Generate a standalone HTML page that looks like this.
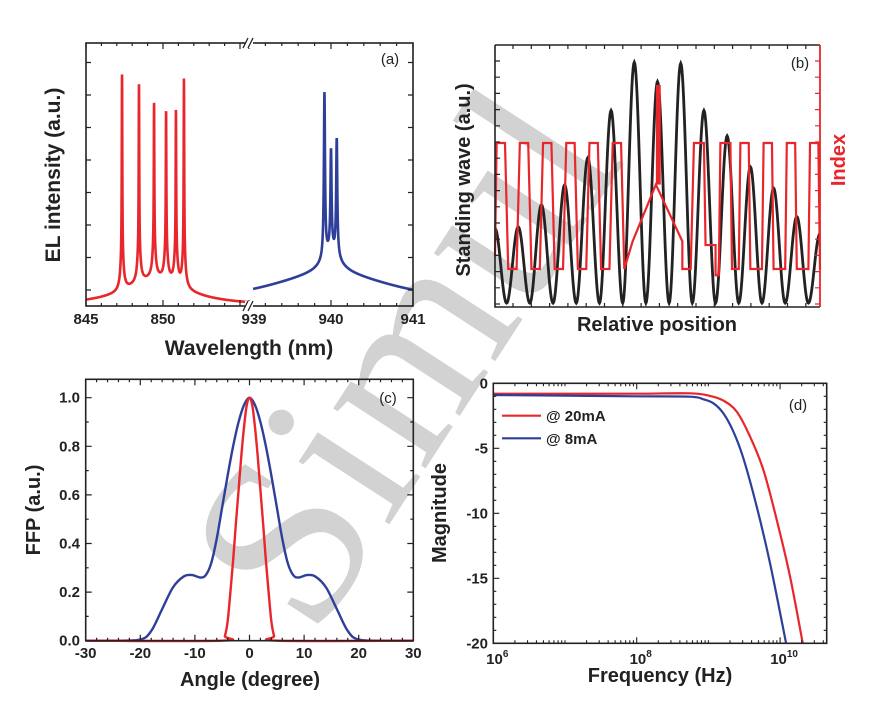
<!DOCTYPE html>
<html><head><meta charset="utf-8"><style>
html,body{margin:0;padding:0;background:#fff;}
svg{display:block;font-family:"Liberation Sans",sans-serif;}
.t{font-weight:bold;}
</style></head><body>
<svg id="fig" width="889" height="703" viewBox="0 0 889 703" xmlns="http://www.w3.org/2000/svg"></svg>
<script>
// ---- Panel (a) data ----
const redPeakWl = [847.34, 848.44, 849.42, 850.2, 850.84, 851.36];
const redPeakH = [0.905, 0.833, 0.749, 0.719, 0.734, 0.871];
const bluePeakWl = [939.92, 940.0, 940.07];
const bluePeakH = [0.60, 0.36, 0.42];
const aTicksLeft = [845, 850];
const aTicksRight = [939, 940, 941];
// ---- Panel (b) data ----
const swPeaks = [0.3, 0.306, 0.39, 0.466, 0.57, 0.75, 0.934, 0.86, 0.93, 0.75, 0.653, 0.535, 0.454, 0.345, 0.28];
const idxPos = [0,0.07,0.43,0.57,0.93,1.07,1.43,1.57,1.93,2.07,2.43,2.57,2.93,3.07,3.43,3.57,3.93,4.07,4.43,4.57,4.93,5.07,5.43,5.57,5.93,6.93,8.07,8.07,8.43,8.57,9.0,9.07,9.5,9.5,9.64,9.71,10.14,10.21,10.5,10.57,10.93,11.0,11.5,11.57,11.93,12.0,12.5,12.57,12.93,13.0,13.5,13.57,13.93,14.0];
const idxLevel = [0.1,1,1,0,0,1,1,0,0,1,1,0,0,1,1,0,0,1,1,0,0,1,1,0,0.22,0.67,0.22,0,0,1,1,0.19,0.19,-0.05,-0.05,1,1,0,0,1,1,0,0,1,1,0,0,1,1,0,0,1,1,0];
const defectPos = [6.93, 7.14];
const defectLevel = [0.67, 1.46];
// ---- Panel (c) data ----
const cAngles = [-30,-25,-20,-18,-16,-14,-12,-10.5,-9,-8,-7,-6,-5,-4,-3,-2,-1,0,1,2,3,4,5,6,7,8,9,10.5,12,14,16,18,20,25,30];
const cBlue = [0,0,0.005,0.04,0.13,0.22,0.265,0.27,0.26,0.27,0.32,0.42,0.55,0.68,0.8,0.9,0.97,1.0,0.97,0.9,0.8,0.68,0.55,0.42,0.32,0.27,0.26,0.27,0.265,0.22,0.13,0.04,0.005,0,0];
const cRedAngles = [-30,-5,-4.5,-4,-3.5,-3,-2.5,-2,-1.5,-1,-0.5,0,0.5,1,1.5,2,2.5,3,3.5,4,4.5,5,30];
const cRed = [0,0,0.02,0.08,0.2,0.33,0.48,0.62,0.76,0.88,0.97,1,0.97,0.88,0.76,0.62,0.48,0.33,0.2,0.08,0.02,0,0];
const cYTicks = ["0.0","0.2","0.4","0.6","0.8","1.0"];
const cXTicks = ["-30","-20","-10","0","10","20","30"];
// ---- Panel (d) data ----
const dRedLogF = [6, 7, 8, 8.744, 9.023, 9.209, 9.395, 9.581, 9.767, 9.953, 10.14, 10.316];
const dRedMag = [-0.8, -0.8, -0.8, -0.77, -0.97, -1.33, -2.18, -4.1, -6.67, -10.5, -14.9, -20];
const dBlueLogF = [6, 7, 8, 8.744, 8.93, 9.07, 9.209, 9.349, 9.488, 9.674, 9.86, 10.084];
const dBlueMag = [-0.9, -0.95, -1.0, -1.03, -1.23, -1.54, -2.31, -3.72, -5.77, -9.49, -13.85, -20];
const dYTicks = ["0","-5","-10","-15","-20"];
const dXTicks = [6, 8, 10];

const NS = "http://www.w3.org/2000/svg";
const svg = document.getElementById("fig");
function mk(tag, attrs, name, parent) {
  const el = document.createElementNS(NS, tag);
  for (const k in attrs) el.setAttribute(k, attrs[k]);
  
  
  (parent || svg).appendChild(el);
  return el;
}
function txt(x, y, s, size, name, anchor, fill, extra) {
  const el = mk("text", Object.assign({x:x, y:y, "font-size":size, "text-anchor":anchor||"middle", "class":"t", fill:fill||"#222"}, extra||{}), name);
  el.textContent = s;
  return el;
}
function poly(pts) { return pts.map((p,i)=>(i?"L":"M")+p[0].toFixed(2)+","+p[1].toFixed(2)).join(""); }
function smooth(pts) {
  let d = "M"+pts[0][0].toFixed(2)+","+pts[0][1].toFixed(2);
  for (let i=0;i<pts.length-1;i++){
    const p0=pts[Math.max(0,i-1)],p1=pts[i],p2=pts[i+1],p3=pts[Math.min(pts.length-1,i+2)];
    const c1=[p1[0]+(p2[0]-p0[0])/6,p1[1]+(p2[1]-p0[1])/6];
    const c2=[p2[0]-(p3[0]-p1[0])/6,p2[1]-(p3[1]-p1[1])/6];
    d+="C"+c1[0].toFixed(2)+","+c1[1].toFixed(2)+" "+c2[0].toFixed(2)+","+c2[1].toFixed(2)+" "+p2[0].toFixed(2)+","+p2[1].toFixed(2);
  }
  return d;
}
function L(d,g){return g*g/(d*d+g*g);}

// watermark
txt(0,0,"Simul",240,"watermark","middle","#c4c4c4",{transform:"translate(470,400) rotate(-57)","font-family":"Liberation Serif, serif",opacity:"0.75",style:"font-weight:normal"});

// ================= Panel (a) =================
const aL=86,aR=413,aT=43,aB=306,aBrk=249;
const axL = wl => aL + (wl-845)*15.4;
const axR = wl => aBrk + (wl-939)*82;
const ay = v => aB - v*263;
{
  let pts=[];
  for(let i=0;i<=2200;i++){
    const x=845+i*(855.6-845)/2200;
    let v=0.1*L(x-849.5,2.5);
    for(let j=0;j<redPeakWl.length;j++){const d=x-redPeakWl[j]; v+=(redPeakH[j]-0.21)*L(d,0.02)+0.13*L(d,0.12);}
    pts.push([axL(x),ay(Math.min(v,1.1))]);
  }
  mk("path",{d:poly(pts),fill:"none",stroke:"#e8262b","stroke-width":2.6},"el-spectrum-850nm");
  pts=[];
  for(let i=0;i<=2400;i++){
    const x=939.05+i*(941-939.05)/2400;
    let v=0.12*L(x-940,1.0)+0.07*L(x-940,0.15);
    for(let j=0;j<bluePeakWl.length;j++){const d=x-bluePeakWl[j]; v+=bluePeakH[j]*L(d,0.008)+0.03*L(d,0.03);}
    pts.push([axR(x),ay(Math.min(v,1.1))]);
  }
  mk("path",{d:poly(pts),fill:"none",stroke:"#2e3f9a","stroke-width":2.6},"el-spectrum-940nm");
  mk("rect",{x:aL,y:aT,width:aR-aL,height:aB-aT,fill:"none",stroke:"#222","stroke-width":1.6},"panel-a-frame");
  let tk="";
  for(let y=aB-16;y>aT;y-=32.5){tk+=`M${aL},${y}h5M${aR},${y}h-5`;}
  for(let w=845;w<=855;w++){const x=axL(w);const l=(w%5==0)?6:3;tk+=`M${x},${aB}v-${l}M${x},${aT}v${l}`;}
  for(let w=939;w<=941.001;w+=0.2){const x=axR(w);const l=(Math.abs(w-Math.round(w))<0.01)?6:3;tk+=`M${x},${aB}v-${l}M${x},${aT}v${l}`;}
  mk("path",{d:tk,stroke:"#222","stroke-width":1.2,fill:"none"},"panel-a-ticks");
  mk("rect",{x:aBrk-4,y:aT-5,width:8,height:10,fill:"#fff"},"axis-break-top-gap");
  mk("rect",{x:aBrk-4,y:aB-5,width:8,height:10,fill:"#fff"},"axis-break-bottom-gap");
  mk("path",{d:`M${aBrk-6},${aT+5}l5,-10M${aBrk-1},${aT+5}l5,-10M${aBrk-6},${aB+5}l5,-10M${aBrk-1},${aB+5}l5,-10`,stroke:"#222","stroke-width":1.3},"axis-break-marks");
  aTicksLeft.forEach(w=>txt(axL(w),324,String(w),15,"x-tick-label"));
  aTicksRight.forEach(w=>txt(axR(w)+(w==939?5:0),324,String(w),15,"x-tick-label"));
  txt(249,355,"Wavelength (nm)",21,"x-axis-title");
  txt(0,0,"EL intensity (a.u.)",21,"y-axis-title","middle","#222",{transform:"translate(60,175) rotate(-90)"});
  txt(390,64,"(a)",15,"panel-label-a","middle","#222",{style:"font-weight:normal"});
}

// ================= Panel (b) =================
const bL=495,bR=820,bT=45,bB=307;
const bx = k => bL + k*(bR-bL)/14;
const bySW = v => bB - v*262;
const byIdx = v => 269 - v*126;
{
  let pts=[];
  for(let k=0;k<swPeaks.length-1;k++){
    for(let s=0;s<=40;s++){
      const t=s/40;
      const h = t<0.5?swPeaks[k]:swPeaks[k+1];
      const v = 0.015 + (h-0.015)*(0.5+0.5*Math.cos(2*Math.PI*t));
      pts.push([bx(k+t),bySW(v)]);
    }
  }
  mk("path",{d:poly(pts),fill:"none",stroke:"#222","stroke-width":2.8},"standing-wave-line");
  const ip = idxPos.map((p,i)=>[bx(p),byIdx(idxLevel[i])]);
  mk("path",{d:poly(ip),fill:"none",stroke:"#e8262b","stroke-width":2.2},"refractive-index-line");
  mk("rect",{x:bx(defectPos[0]),y:byIdx(defectLevel[1]),width:bx(defectPos[1])-bx(defectPos[0]),height:byIdx(defectLevel[0])-byIdx(defectLevel[1]),fill:"#e8262b"},"index-defect-bar");
  mk("path",{d:`M${bL},${bT}H${bR}M${bL},${bT}V${bB}H${bR}`,fill:"none",stroke:"#222","stroke-width":1.6},"panel-b-frame");
  mk("path",{d:`M${bR},${bT}V${bB}`,stroke:"#e8262b","stroke-width":1.8},"index-axis-line");
  let tk="",tr="";
  for(let y=bB-3;y>bT;y-=16.2){tk+=`M${bL},${y}h5`;tr+=`M${bR},${y}h-5`;}
  for(let x=bL+18;x<bR;x+=18.3){tk+=`M${x},${bT}v4M${x},${bB}v-4`;}
  mk("path",{d:tk,stroke:"#222","stroke-width":1.2},"panel-b-ticks");
  mk("path",{d:tr,stroke:"#e8262b","stroke-width":1.2},"index-axis-ticks");
  txt(657,331,"Relative position",20,"x-axis-title");
  txt(0,0,"Standing wave (a.u.)",20,"y-axis-title","middle","#222",{transform:"translate(470,180) rotate(-90)"});
  txt(0,0,"Index",20,"index-axis-title","middle","#e8262b",{transform:"translate(845,160) rotate(-90)"});
  txt(800,68,"(b)",15,"panel-label-b","middle","#222",{style:"font-weight:normal"});
}

// ================= Panel (c) =================
const cL=85.7,cR=413.3,cT=379.3,cB=640.7;
const cx = a => 249.5 + a*5.46;
const cy = v => cB - v*243;
{
  mk("path",{d:smooth(cAngles.map((a,i)=>[cx(a),cy(cBlue[i])])),fill:"none",stroke:"#2e3f9a","stroke-width":2.4},"ffp-blue-line");
  mk("path",{d:smooth(cRedAngles.map((a,i)=>[cx(a),cy(cRed[i])])),fill:"none",stroke:"#e8262b","stroke-width":2.4},"ffp-red-line");
  mk("rect",{x:cL,y:cT,width:cR-cL,height:cB-cT,fill:"none",stroke:"#222","stroke-width":1.6},"panel-c-frame");
  let tk="";
  for(let i=0;i<=10;i++){const y=cy(i*0.1);const l=i%2?3:6;tk+=`M${cL},${y}h${l}M${cR},${y}h-${l}`;}
  for(let a=-30;a<=30;a+=2){const x=cx(a);const l=a%10==0?6:3;tk+=`M${x},${cB}v-${l}M${x},${cT}v${l}`;}
  mk("path",{d:tk,stroke:"#222","stroke-width":1.2},"panel-c-ticks");
  cYTicks.forEach(s=>txt(80,cy(parseFloat(s))+5,s,15,"y-tick-label","end"));
  cXTicks.forEach(s=>txt(cx(parseFloat(s)),658,s,15,"x-tick-label"));
  txt(250,686,"Angle (degree)",20,"x-axis-title");
  txt(0,0,"FFP (a.u.)",20,"y-axis-title","middle","#222",{transform:"translate(40,510) rotate(-90)"});
  txt(388,403,"(c)",15,"panel-label-c","middle","#222",{style:"font-weight:normal"});
}

// ================= Panel (d) =================
const dL=493.3,dR=826.7,dT=383.3,dB=643.3;
const dx = lf => dL + (lf-6)*71.7;
const dy = m => dT - m*13;
{
  mk("path",{d:smooth(dRedLogF.map((f,i)=>[dx(f),dy(dRedMag[i])])),fill:"none",stroke:"#e8262b","stroke-width":2.2},"response-20ma-line");
  mk("path",{d:smooth(dBlueLogF.map((f,i)=>[dx(f),dy(dBlueMag[i])])),fill:"none",stroke:"#2e3f9a","stroke-width":2.2},"response-8ma-line");
  mk("rect",{x:dL,y:dT,width:dR-dL,height:dB-dT,fill:"none",stroke:"#222","stroke-width":1.6},"panel-d-frame");
  let tk="";
  for(let m=0;m>=-20;m--){const y=dy(m);const l=m%5==0?6:3;tk+=`M${dL},${y}h${l}M${dR},${y}h-${l}`;}
  for(let dec=6;dec<=10;dec++){for(let j=1;j<10;j++){const lf=dec+Math.log10(j);if(lf>10.65)break;const x=dx(lf);const l=(j==1&&dec%2==0)?6:3;tk+=`M${x},${dB}v-${l}M${x},${dT}v${l}`;}}
  mk("path",{d:tk,stroke:"#222","stroke-width":1.1},"panel-d-ticks");
  dYTicks.forEach(s=>txt(488,dy(parseFloat(s))+5,s,15,"y-tick-label","end"));
  dXTicks.forEach(e=>{const t=txt(dx(e)+4,664,"10",15,"x-tick-label");const sp=mk("tspan",{dy:-7,"font-size":10},"x-tick-exponent",t);sp.textContent=String(e);});
  txt(660,682,"Frequency (Hz)",20,"x-axis-title");
  txt(0,0,"Magnitude",20,"y-axis-title","middle","#222",{transform:"translate(446,513) rotate(-90)"});
  mk("line",{x1:502,y1:415.7,x2:541,y2:415.7,stroke:"#e8262b","stroke-width":2.2},"legend-swatch-20ma");
  txt(546,421,"@ 20mA",15,"legend-entry-20ma","start");
  mk("line",{x1:502,y1:438.3,x2:541,y2:438.3,stroke:"#2e3f9a","stroke-width":2.2},"legend-swatch-8ma");
  txt(546,444,"@ 8mA",15,"legend-entry-8ma","start");
  txt(798,410,"(d)",15,"panel-label-d","middle","#222",{style:"font-weight:normal"});
}
</script>
</body></html>
